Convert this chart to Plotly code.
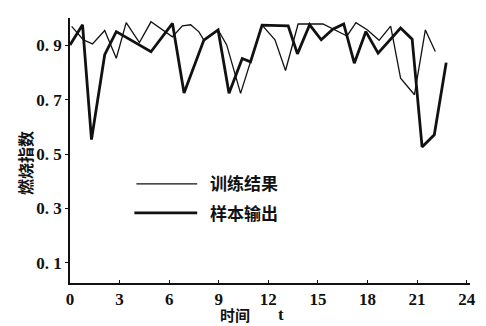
import plotly.graph_objects as go

# 训练结果 (thin line)
train_t = [0.1, 0.8, 1.36, 2.1, 2.8, 3.4, 4.2, 4.9, 6.2, 6.8, 7.3, 7.8, 8.1, 8.96,
           9.48, 10.32, 11.62, 12.4, 13.04, 13.8, 15.3, 15.9, 16.76, 17.3, 18.0,
           18.7, 19.4, 20.0, 20.84, 21.5, 22.1]
train_v = [0.969, 0.920, 0.905, 0.954, 0.852, 0.983, 0.910, 0.986, 0.931, 0.971,
           0.975, 0.949, 0.919, 0.956, 0.901, 0.723, 0.974, 0.920, 0.807, 0.978,
           0.978, 0.959, 0.934, 0.983, 0.956, 0.918, 0.970, 0.779, 0.718, 0.956, 0.877]

# 样本输出 (thick line)
sample_t = [0.0, 0.76, 1.3, 2.1, 2.8, 4.9, 6.2, 6.9, 8.1, 8.96, 9.62, 10.42, 10.92,
            11.62, 13.2, 13.76, 14.5, 15.2, 15.9, 16.56, 17.2, 17.9, 18.64, 20.0,
            20.7, 21.3, 22.04, 22.76]
sample_v = [0.901, 0.975, 0.553, 0.865, 0.950, 0.876, 0.980, 0.724, 0.919, 0.956,
            0.723, 0.851, 0.839, 0.974, 0.971, 0.868, 0.975, 0.920, 0.959, 0.978,
            0.834, 0.950, 0.871, 0.963, 0.922, 0.526, 0.571, 0.836]

x_ticks = [0, 3, 6, 9, 12, 15, 18, 21, 24]
y_ticks = [0.1, 0.3, 0.5, 0.7, 0.9]
y_ticktext = ["0. 1", "0. 3", "0. 5", "0. 7", "0. 9"]
legend_names = ["训练结果", "样本输出"]

INK = "#111111"
CJK = "Noto Sans CJK SC"
SERIF = "Liberation Serif, Times New Roman, serif"

fig = go.Figure()
fig.add_trace(go.Scatter(x=train_t, y=train_v, mode="lines",
                         line=dict(color=INK, width=1.3), name=legend_names[0],
                         showlegend=False))
fig.add_trace(go.Scatter(x=sample_t, y=sample_v, mode="lines",
                         line=dict(color=INK, width=2.8), name=legend_names[1],
                         showlegend=False))

# legend drawn by hand (long line samples as in the reference)
fig.add_shape(type="line", xref="paper", yref="paper", x0=0.166, x1=0.318,
              y0=0.374, y1=0.374, line=dict(color=INK, width=1.3))
fig.add_shape(type="line", xref="paper", yref="paper", x0=0.161, x1=0.318,
              y0=0.265, y1=0.265, line=dict(color=INK, width=2.8))
fig.add_annotation(xref="paper", yref="paper", x=0.345, y=0.38, text=f"<b>{legend_names[0]}</b>",
                   showarrow=False, xanchor="left", yanchor="middle",
                   font=dict(family=CJK, size=17, color=INK))
fig.add_annotation(xref="paper", yref="paper", x=0.345, y=0.265, text=f"<b>{legend_names[1]}</b>",
                   showarrow=False, xanchor="left", yanchor="middle",
                   font=dict(family=CJK, size=17, color=INK))

# axis titles
fig.add_annotation(xref="paper", yref="paper", x=0.412, y=-0.118, text="<b>时间</b>",
                   showarrow=False, xanchor="center", yanchor="middle",
                   font=dict(family=CJK, size=15, color=INK))
fig.add_annotation(xref="paper", yref="paper", x=0.5285, y=-0.118, text="<b>t</b>",
                   showarrow=False, xanchor="center", yanchor="middle",
                   font=dict(family=SERIF, size=17, color=INK))
fig.add_annotation(xref="paper", yref="paper", x=-0.112, y=0.4535, text="<b>燃烧指数</b>",
                   showarrow=False, textangle=-90, xanchor="center", yanchor="middle",
                   font=dict(family=CJK, size=16, color=INK))

# the page body adds an 8px offset; the figure is sized to compensate
fig.update_layout(
    width=478, height=318,
    margin=dict(l=62, r=13, t=10, b=43),
    paper_bgcolor="white", plot_bgcolor="white",
    showlegend=False,
    xaxis=dict(range=[0, 24.2], tickmode="array", tickvals=x_ticks,
               ticktext=[str(v) for v in x_ticks],
               showgrid=False, zeroline=False, showline=True, linecolor=INK, linewidth=1.6,
               ticks="inside", ticklen=3, tickcolor=INK, tickwidth=1,
               tickfont=dict(family=SERIF, size=17, color=INK, weight="bold")),
    yaxis=dict(range=[0.026, 1.0], tickmode="array", tickvals=y_ticks, ticktext=y_ticktext,
               showgrid=False, zeroline=False, showline=True, linecolor=INK, linewidth=1.6,
               ticks="outside", ticklen=3, tickcolor=INK, tickwidth=1,
               tickfont=dict(family=SERIF, size=17, color=INK, weight="bold")),
)

fig.write_html("out.html")
